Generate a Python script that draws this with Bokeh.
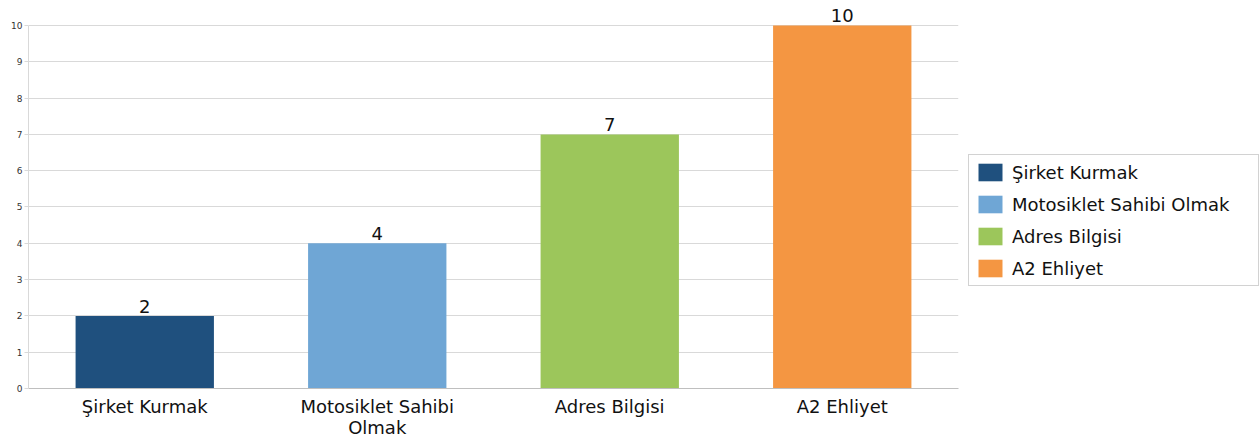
from bokeh.plotting import figure
from bokeh.models import ColumnDataSource, Range1d, LabelSet, Legend, LegendItem, FixedTicker
from bokeh.core.properties import value
from bokeh.embed import file_html
from bokeh.resources import INLINE

categories = ["Şirket Kurmak", "Motosiklet Sahibi Olmak", "Adres Bilgisi", "A2 Ehliyet"]
values = [2, 4, 7, 10]
colors = ["#1f507e", "#6fa6d5", "#9cc65b", "#f49642"]
tick_labels = ["Şirket Kurmak", "Motosiklet Sahibi\nOlmak", "Adres Bilgisi", "A2 Ehliyet"]
y_ticks = list(range(0, 11))

FONT = "DejaVu Sans"

positions = list(range(len(categories)))
source = ColumnDataSource(dict(x=positions, cat=categories, val=values, color=colors,
                               lbl=[str(v) for v in values]))

p = figure(x_range=Range1d(-0.5, len(categories) - 0.5), y_range=Range1d(0, 10.468),
           frame_width=930, frame_height=380,
           output_backend="svg", toolbar_location=None,
           min_border_left=28, min_border_top=8, min_border_bottom=40, min_border_right=300)

r = p.vbar(x="x", top="val", width=0.595, color="color", source=source, line_color=None)

labels = LabelSet(x="x", y="val", text="lbl", source=source, text_align="center",
                  text_baseline="alphabetic", y_offset=3, text_font=value(FONT),
                  text_font_size="18px", text_color="#111111")
p.add_layout(labels)

legend = Legend(items=[LegendItem(label=c, renderers=[r], index=i) for i, c in enumerate(categories)],
                location=(10, 102))
legend.label_text_font = FONT
legend.label_text_font_size = "18px"
legend.label_text_color = "#111111"
legend.glyph_width = 30
legend.glyph_height = 22
legend.label_height = 22
legend.label_width = 240
legend.spacing = 10
legend.padding = 6
legend.margin = 0
legend.label_standoff = 7
legend.border_line_color = "#a6a6a6"
legend.border_line_width = 1
p.add_layout(legend, "right")

p.outline_line_color = None
p.xgrid.grid_line_color = None
p.ygrid.grid_line_color = "#d9d9d9"
p.yaxis.ticker = FixedTicker(ticks=y_ticks)
p.yaxis.bounds = (0, 10)
p.yaxis.major_label_text_font = FONT
p.yaxis.major_label_text_font_size = "9px"
p.yaxis.major_label_text_color = "#333333"
p.yaxis.axis_line_color = "#d9d9d9"
p.yaxis.major_tick_line_color = "#d9d9d9"
p.yaxis.major_tick_out = 4
p.yaxis.major_tick_in = 0
p.yaxis.minor_tick_line_color = None
p.yaxis.major_label_standoff = 2

p.xaxis.ticker = FixedTicker(ticks=positions)
p.xaxis.major_label_overrides = {i: t for i, t in zip(positions, tick_labels)}
p.xaxis.major_label_text_font = FONT
p.xaxis.major_label_text_font_size = "18px"
p.xaxis.major_label_text_line_height = 1.0
p.xaxis.major_label_text_color = "#111111"
p.xaxis.axis_line_color = "#bfbfbf"
p.xaxis.major_tick_line_color = None
p.xaxis.minor_tick_line_color = None
p.xaxis.major_label_standoff = 1

open("out.html", "w").write(file_html(p, INLINE))
